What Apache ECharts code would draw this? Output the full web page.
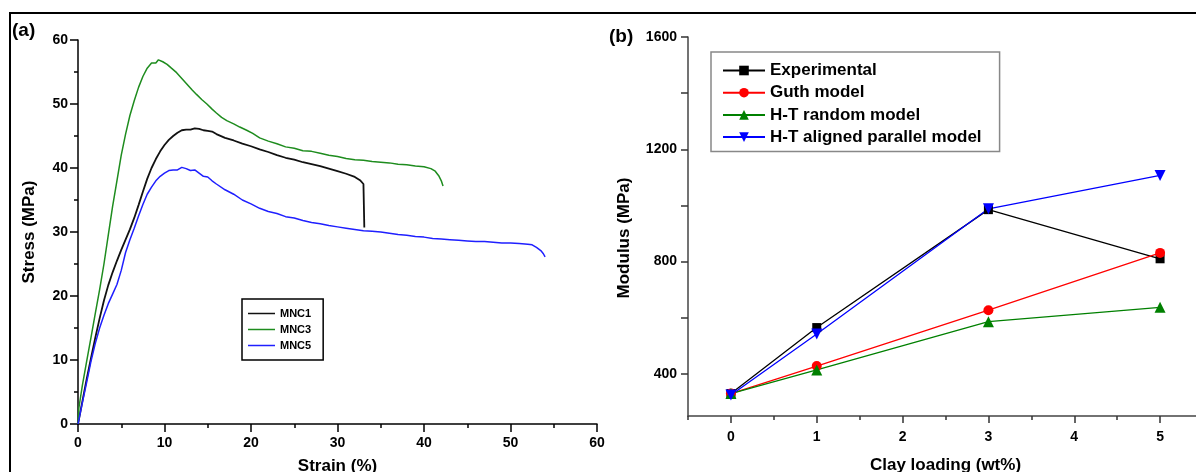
<!DOCTYPE html>
<html>
<head>
<meta charset="utf-8">
<title>Stress-strain and modulus</title>
<script src="https://cdn.jsdelivr.net/npm/echarts@6/dist/echarts.min.js"></script>
<style>
	html,body{margin:0;padding:0;background:#fff;}
	#chart{width:1196px;height:472px;}
</style>
</head>
<body>
<div id="chart"></div>
<script>
// panel (a) - stress strain curves
var mnc1Strain = [0,0.5,1,1.5,2,2.5,3,3.5,4,4.5,5,5.5,6,6.5,7,7.5,8,8.5,9,9.5,10,10.5,11,11.5,12,12.5,13,13.5,14,14.5,15,15.5,16,17,18,19,20,21,22,23,24,25,26,27,28,29,30,31,32,32.6,33,33.1];
var mnc1Stress = [0,3.5,7,10.3,13.5,16.5,19.3,21.7,23.7,25.5,27.2,28.8,30.4,32.2,34.2,36.3,38.3,40,41.4,42.6,43.6,44.4,45,45.5,45.9,46,46,46.2,46.1,45.9,45.8,45.7,45.3,44.7,44.3,43.8,43.4,42.9,42.5,42,41.6,41.3,40.9,40.6,40.3,39.9,39.5,39.1,38.6,38.1,37.5,30.7];

var mnc3Strain = [0,0.1,0.5,1,1.5,2,2.5,3,3.5,4,4.5,5,5.5,6,6.5,7,7.5,8,8.5,9,9.3,9.8,10.3,10.8,11.4,12,12.6,13.2,13.7,14.3,14.9,15.5,16,16.6,17.2,18,18.7,19.5,20.2,21,22,23,24,25,26,27,28,29,30,31,32,33,34,35,36,37,38,39,40,40.8,41.3,41.7,42,42.2];
var mnc3Stress = [0,2.5,6,9.8,13.5,17.3,21,25,29.5,34,38,42,45.3,48.2,50.5,52.6,54.3,55.6,56.4,56.4,56.9,56.6,56.2,55.6,54.9,54,53.1,52.2,51.5,50.7,50,49.2,48.6,47.9,47.4,46.9,46.4,45.9,45.4,44.7,44.2,43.8,43.3,43.1,42.7,42.6,42.3,42,41.8,41.5,41.3,41.2,41,40.9,40.8,40.6,40.5,40.3,40.2,39.9,39.5,38.8,38,37.2];

var mnc5Strain = [0,0.5,1,1.5,2,2.5,3,3.5,4,4.5,5,5.5,6,6.5,7,7.5,8,8.5,9,9.5,10,10.5,11,11.5,12,12.5,13,13.5,14,14.5,15,15.5,16,17,18,19,20,21,22,23,24,25,26,27,28,29,30,31,32,33,34,35,36,37,38,39,40,41,42,43,44,45,46,47,48,49,50,51,52,52.5,53,53.5,53.8,54];
var mnc5Stress = [0,3.3,6.5,9.8,12.6,15,17,18.8,20.3,21.8,24,26.8,28.8,30.6,32.5,34.3,35.9,37,38,38.7,39.2,39.6,39.7,39.7,40.1,39.9,39.6,39.7,39.2,38.7,38.6,38,37.5,36.6,35.9,35,34.4,33.7,33.2,32.9,32.4,32.2,31.8,31.5,31.3,31,30.8,30.6,30.4,30.2,30.1,30,29.8,29.6,29.5,29.3,29.2,29,28.9,28.8,28.7,28.6,28.5,28.5,28.4,28.3,28.3,28.2,28.1,28,27.6,27.1,26.6,26.1];

var strainTicks = [0,10,20,30,40,50,60];
var stressTicks = [0,10,20,30,40,50,60];

// panel (b) - modulus vs clay loading
var clayLoading = [0,1,3,5];
var experimental = [330,565,985,810];
var guthModel = [330,428,627,831];
var htRandom = [330,414,586,637];
var htAligned = [325,542,988,1107];
var clayTicks = [0,1,2,3,4,5];
var clayMinorTicks = [-0.5,0.5,1.5,2.5,3.5,4.5,5.5];
var modulusLabels = [400,800,1200,1600];
var modulusTicks = [400,600,800,1000,1200,1400,1600];

!function(){

	'use strict';

	var FONT = '"Liberation Sans", Arial, sans-serif';

	function pairs(xs, ys){
		var out = [];
		for(var i = 0; i < xs.length; i++){
			out.push([xs[i], ys[i]]);
		}
		return out;
	}
	// no thousands separator on the labels
	function plain(v){
		return String(v);
	}

	var labelStyle = {color:'#000', fontFamily:FONT, fontWeight:'bold', fontSize:14, formatter:plain};
	var nameStyle = {color:'#000', fontFamily:FONT, fontWeight:'bold', fontSize:17};

	var myChart = echarts.init(document.getElementById('chart'), null, {renderer:'canvas'});

	var option = {
		backgroundColor:'#fff',
		animation:false,
		grid:[
			{left:78, top:40, width:519, height:384, outerBoundsMode:'none', containLabel:false},
			{left:688, top:37, width:515, height:379, outerBoundsMode:'none', containLabel:false}
		],
		xAxis:[
			{
				gridIndex:0, type:'value', min:0, max:60, interval:10,
				name:'Strain (%)', nameLocation:'middle', nameGap:34, nameTextStyle:nameStyle,
				axisLine:{onZero:false, lineStyle:{color:'#000', width:1.5}},
				axisTick:{inside:false, length:8, lineStyle:{color:'#000', width:1.5}},
				minorTick:{show:true, splitNumber:2, length:4, lineStyle:{color:'#000', width:1.5}},
				axisLabel:Object.assign({margin:12, customValues:strainTicks}, labelStyle),
				splitLine:{show:false}
			},
			{
				gridIndex:1, type:'value', min:-0.5, max:5.5, position:'bottom',
				name:'Clay loading (wt%)', nameLocation:'middle', nameGap:41, nameTextStyle:nameStyle,
				axisLine:{onZero:false, lineStyle:{color:'#444', width:1.5}},
				axisTick:{inside:false, length:7, customValues:clayTicks, lineStyle:{color:'#333', width:1.5}},
				axisLabel:Object.assign({margin:14, customValues:clayTicks}, labelStyle),
				splitLine:{show:false}
			},
			{
				// minor ticks for (b)
				gridIndex:1, type:'value', min:-0.5, max:5.5, position:'bottom',
				axisLine:{show:false, onZero:false},
				axisTick:{inside:false, length:4, customValues:clayMinorTicks, lineStyle:{color:'#333', width:1.5}},
				axisLabel:{show:false},
				splitLine:{show:false}
			}
		],
		yAxis:[
			{
				gridIndex:0, type:'value', min:0, max:60, interval:10,
				name:'Stress (MPa)', nameLocation:'middle', nameGap:40, nameTextStyle:nameStyle,
				axisLine:{onZero:false, lineStyle:{color:'#000', width:1.5}},
				axisTick:{inside:false, length:8, lineStyle:{color:'#000', width:1.5}},
				minorTick:{show:true, splitNumber:2, length:4, lineStyle:{color:'#000', width:1.5}},
				axisLabel:Object.assign({margin:10, customValues:stressTicks}, labelStyle),
				splitLine:{show:false}
			},
			{
				gridIndex:1, type:'value', min:250, max:1600,
				name:'Modulus (MPa)', nameLocation:'middle', nameGap:55,
				nameTextStyle:Object.assign({padding:[0,23,0,0]}, nameStyle),
				axisLine:{onZero:false, lineStyle:{color:'#444', width:1.5}},
				axisTick:{inside:false, length:7, customValues:modulusTicks, lineStyle:{color:'#333', width:1.5}},
				axisLabel:Object.assign({margin:11, customValues:modulusLabels}, labelStyle),
				splitLine:{show:false}
			}
		],
		legend:[
			{
				data:['MNC1','MNC3','MNC5'],
				orient:'vertical', left:242, top:299,
				icon:'rect', padding:[9,12,9,6], itemWidth:27, itemHeight:1.5, itemGap:5,
				borderColor:'#000', borderWidth:1.5, borderRadius:0,
				textStyle:{color:'#000', fontFamily:FONT, fontWeight:'bold', fontSize:11}
			},
			{
				data:['Experimental','Guth model','H-T random model','H-T aligned parallel model'],
				orient:'vertical', left:711, top:52,
				padding:[10,18,6,11], itemWidth:42, itemHeight:12, itemGap:5.2,
				borderColor:'#888', borderWidth:1.5, borderRadius:0,
				textStyle:{color:'#000', fontFamily:FONT, fontWeight:'bold', fontSize:17}
			}
		],
		graphic:[
			// outer frame
			{type:'line', shape:{x1:9, y1:13, x2:1196, y2:13}, style:{stroke:'#000', lineWidth:2}},
			{type:'line', shape:{x1:10, y1:13, x2:10, y2:472}, style:{stroke:'#000', lineWidth:2}},
			{type:'text', left:12, top:21, style:{text:'(a)', fill:'#000', font:'bold 19px ' + FONT}},
			{type:'text', left:609, top:27, style:{text:'(b)', fill:'#000', font:'bold 19px ' + FONT}}
		],
		series:[
			{name:'MNC1', type:'line', xAxisIndex:0, yAxisIndex:0, symbol:'none', color:'#111',
				lineStyle:{width:1.8}, data:pairs(mnc1Strain, mnc1Stress)},
			{name:'MNC3', type:'line', xAxisIndex:0, yAxisIndex:0, symbol:'none', color:'#1e8c1e',
				lineStyle:{width:1.5}, data:pairs(mnc3Strain, mnc3Stress)},
			{name:'MNC5', type:'line', xAxisIndex:0, yAxisIndex:0, symbol:'none', color:'#1f1fff',
				lineStyle:{width:1.5}, data:pairs(mnc5Strain, mnc5Stress)},

			{name:'Experimental', type:'line', xAxisIndex:1, yAxisIndex:1, symbol:'rect', symbolSize:9, color:'#000',
				lineStyle:{width:1.3}, data:pairs(clayLoading, experimental)},
			{name:'Guth model', type:'line', xAxisIndex:1, yAxisIndex:1, symbol:'circle', symbolSize:10, color:'#ff0000',
				lineStyle:{width:1.3}, data:pairs(clayLoading, guthModel)},
			{name:'H-T random model', type:'line', xAxisIndex:1, yAxisIndex:1, symbol:'triangle', symbolSize:11, color:'#008000',
				lineStyle:{width:1.3}, data:pairs(clayLoading, htRandom)},
			{name:'H-T aligned parallel model', type:'line', xAxisIndex:1, yAxisIndex:1, symbol:'triangle', symbolRotate:180, symbolSize:11, color:'#0000ff',
				lineStyle:{width:1.3}, data:pairs(clayLoading, htAligned)}
		]
	};

	myChart.setOption(option);
}()
</script>
</body>
</html>
